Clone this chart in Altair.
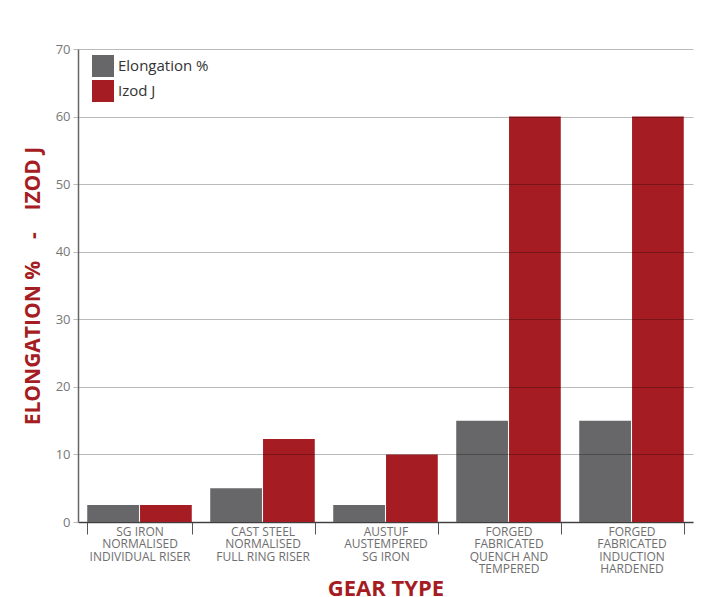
import altair as alt
import pandas as pd

categories = [
    "SG IRON|NORMALISED|INDIVIDUAL RISER",
    "CAST STEEL|NORMALISED|FULL RING RISER",
    "AUSTUF|AUSTEMPERED|SG IRON",
    "FORGED|FABRICATED|QUENCH AND|TEMPERED",
    "FORGED|FABRICATED|INDUCTION|HARDENED",
]
series = ["Elongation %", "Izod J"]
elongation = [2.5, 5, 2.5, 15, 15]
izod = [2.5, 12.3, 10, 60, 60]
colors = ["#676769", "#a61c23"]
y_ticks = [0, 10, 20, 30, 40, 50, 60, 70]

rows = []
for c, e, i in zip(categories, elongation, izod):
    rows.append({"category": c, "series": series[0], "value": e})
    rows.append({"category": c, "series": series[1], "value": i})
df = pd.DataFrame(rows)

FONT = "Open Sans"
RED = "#a51c22"

chart = alt.Chart(df).mark_bar().encode(
    x=alt.X(
        "category:N",
        sort=categories,
        scale=alt.Scale(paddingInner=0.15, paddingOuter=0.075),
        axis=alt.Axis(
            title="GEAR TYPE",
            titleFont=FONT,
            titleFontSize=22,
            titleFontWeight="bold",
            titleColor=RED,
            titlePadding=4,
            labelExpr="split(datum.label, '|')",
            labelAngle=0,
            labelFont=FONT,
            labelFontSize=12,
            labelColor="#6e6e6e",
            labelLineHeight=12.5,
            labelPadding=-8,
            labelLimit=300,
            tickBand="extent",
            tickSize=12,
            tickColor="#555555",
            tickWidth=1,
            domainColor="#555555",
            domainWidth=1.5,
        ),
    ),
    xOffset=alt.XOffset("series:N", sort=series, scale=alt.Scale(paddingInner=0.02)),
    y=alt.Y(
        "value:Q",
        scale=alt.Scale(domain=[0, 70], nice=False),
        axis=alt.Axis(
            values=y_ticks,
            title="ELONGATION %\u00a0\u00a0\u00a0\u00a0-\u00a0\u00a0\u00a0\u00a0IZOD J",
            titleFont=FONT,
            titleFontSize=21,
            titleFontWeight="bold",
            titleColor=RED,
            titlePadding=12,
            labelFont=FONT,
            labelFontSize=13,
            labelColor="#777777",
            labelPadding=3,
            tickSize=5,
            tickColor="#bbbbbb",
            gridColor="#000000",
            gridOpacity=0.27,
            domainColor="#666666",
            domainWidth=1.5,
            zindex=1,
        ),
    ),
    color=alt.Color(
        "series:N",
        sort=series,
        scale=alt.Scale(domain=series, range=colors),
        legend=alt.Legend(
            title=None,
            orient="none",
            legendX=14,
            legendY=6,
            symbolType="square",
            symbolSize=484,
            symbolStrokeWidth=0,
            symbolOpacity=1,
            labelFont=FONT,
            labelFontSize=15,
            labelColor="#333333",
            labelOffset=4,
            rowPadding=3,
        ),
    ),
).properties(
    width=615,
    height=473,
    padding={"left": 70, "top": 41, "right": 8, "bottom": 75},
    autosize=alt.AutoSizeParams(type="none"),
    background="white",
).configure_view(stroke=None)

chart.save("out.html", embed_options={"renderer": "svg", "actions": False})
